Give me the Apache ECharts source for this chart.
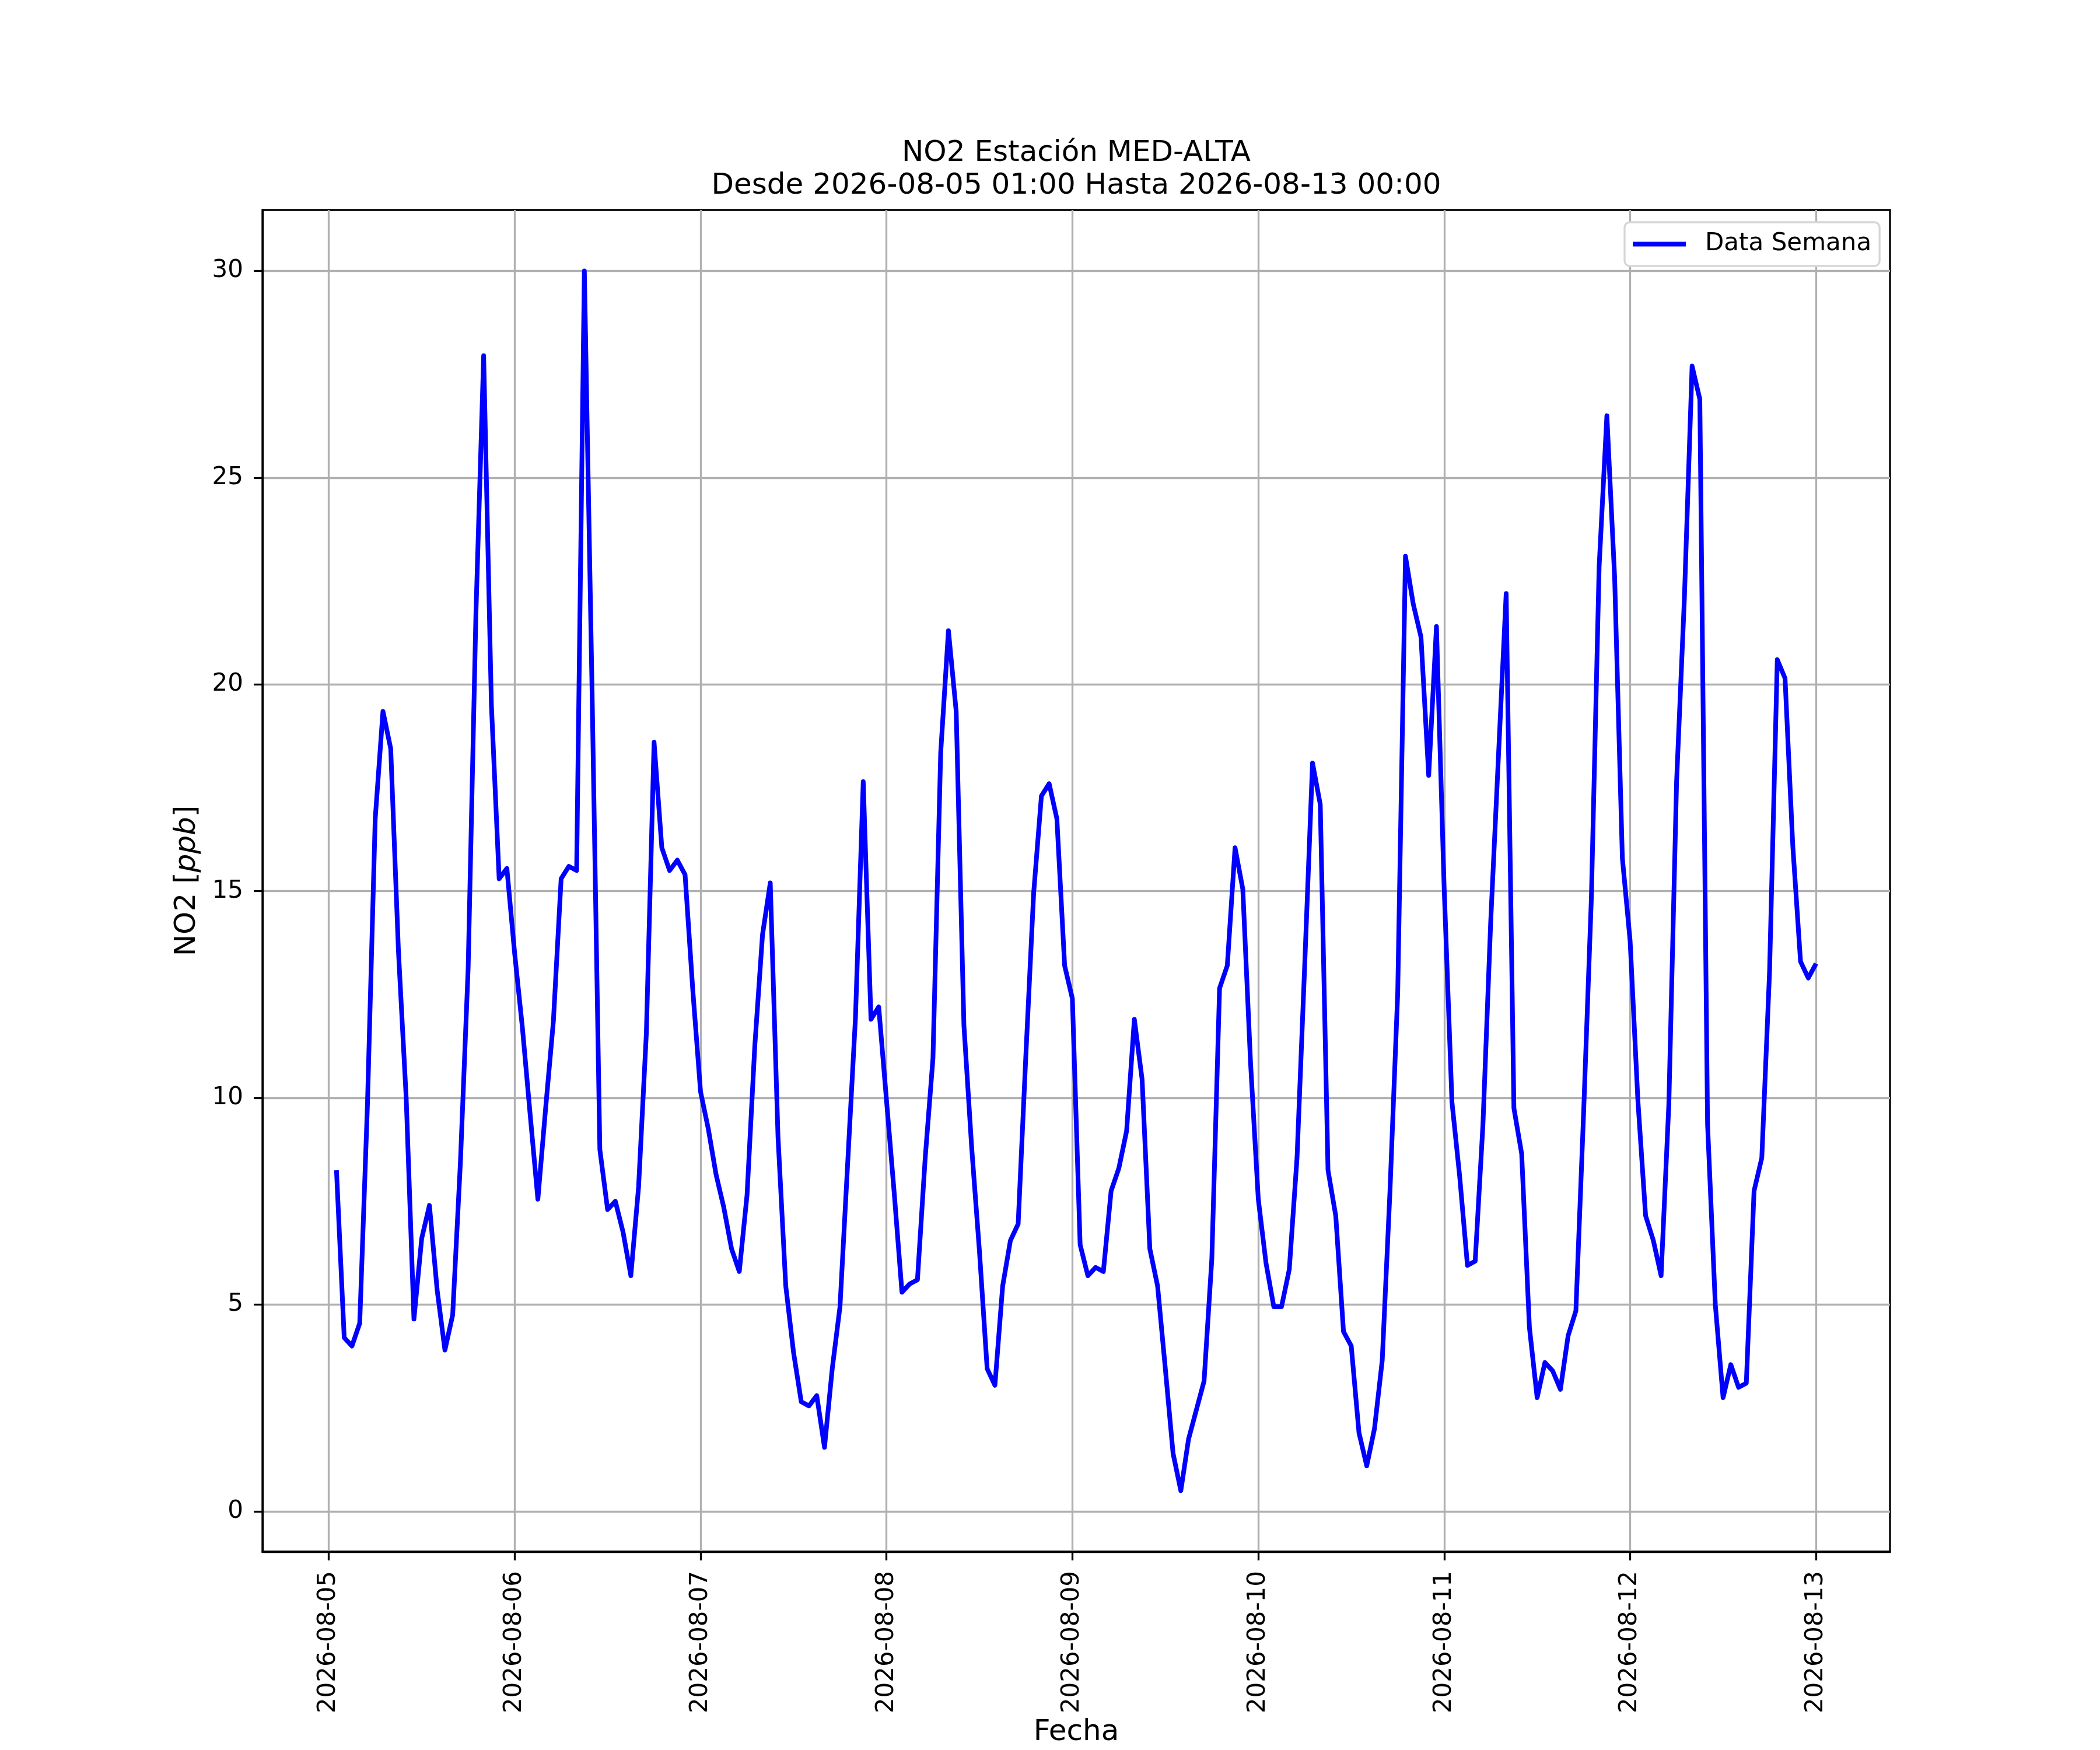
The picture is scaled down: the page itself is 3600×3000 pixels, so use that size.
<!DOCTYPE html>
<html>
<head>
<meta charset="utf-8">
<title>NO2 Estación MED-ALTA</title>
<script src="https://cdn.jsdelivr.net/npm/echarts@6/dist/echarts.min.js"></script>
<style>
    html, body { margin: 0; padding: 0; background: #fff; }
    #chart { width: 3600px; height: 3000px; }
</style>
</head>
<body>
<div id="chart"></div>
<script>
// hourly NO2 values (ppb), each day runs 01:00 .. next day 00:00
const day0805 = [8.25, 4.2, 4.0, 4.55, 9.85, 16.75, 19.35, 18.45, 13.55, 10.0, 4.65, 6.6, 7.4, 5.35, 3.9, 4.75, 8.45, 13.15, 21.7, 27.95, 19.5, 15.3, 15.55, 13.5]
const day0806 = [11.7, 9.6, 7.55, 9.75, 11.85, 15.3, 15.6, 15.5, 30.0, 19.8, 8.75, 7.3, 7.5, 6.75, 5.7, 7.85, 11.55, 18.6, 16.05, 15.5, 15.75, 15.4, 12.6, 10.15]
const day0807 = [9.25, 8.15, 7.35, 6.35, 5.8, 7.65, 11.25, 13.95, 15.2, 9.05, 5.45, 3.85, 2.65, 2.55, 2.8, 1.55, 3.45, 4.95, 8.45, 11.95, 17.65, 11.9, 12.2, 9.95]
const day0808 = [7.7, 5.3, 5.5, 5.6, 8.55, 10.95, 18.35, 21.3, 19.35, 11.75, 8.8, 6.3, 3.45, 3.05, 5.45, 6.55, 6.95, 11.05, 14.95, 17.3, 17.6, 16.75, 13.2, 12.4]
const day0809 = [6.45, 5.7, 5.9, 5.8, 7.75, 8.3, 9.2, 11.9, 10.45, 6.35, 5.45, 3.45, 1.4, 0.5, 1.75, 2.45, 3.15, 6.1, 12.65, 13.2, 16.05, 15.05, 10.85, 7.55]
const day0810 = [6.0, 4.95, 4.95, 5.85, 8.55, 13.25, 18.1, 17.1, 8.25, 7.15, 4.35, 4.0, 1.9, 1.1, 2.0, 3.65, 7.75, 12.55, 23.1, 21.95, 21.15, 17.8, 21.4, 15.05]
const day0811 = [9.9, 8.1, 5.95, 6.05, 9.35, 14.25, 18.25, 22.2, 9.75, 8.65, 4.45, 2.75, 3.6, 3.4, 2.95, 4.25, 4.85, 9.65, 14.85, 22.85, 26.5, 22.6, 15.8, 13.8]
const day0812 = [9.95, 7.15, 6.55, 5.7, 9.85, 17.65, 22.05, 27.7, 26.9, 9.35, 5.0, 2.75, 3.55, 3.0, 3.1, 7.75, 8.55, 13.05, 20.6, 20.15, 16.1, 13.3, 12.9, 13.25]

const days = [day0805, day0806, day0807, day0808, day0809, day0810, day0811, day0812]

// x tick labels, one per midnight
const dateLabels = ['2026-08-05', '2026-08-06', '2026-08-07', '2026-08-08', '2026-08-09', '2026-08-10', '2026-08-11', '2026-08-12', '2026-08-13']
const yTicks = [0, 5, 10, 15, 20, 25, 30]

const titleText = 'NO2 Estación MED-ALTA\nDesde 2026-08-05 01:00 Hasta 2026-08-13 00:00'
const seriesName = 'Data Semana'

// x is hours since 2026-08-05 00:00
let points = []
days.forEach((vals, d) => {
    vals.forEach((v, h) => {
        points.push([d * 24 + h + 1, v])
    })
})
const xTicks = dateLabels.map((lab, i) => i * 24)

// matplotlib style 5% margins
const xSpan = points[points.length - 1][0] - points[0][0]
const xMin = points[0][0] - xSpan * 0.05
const xMax = points[points.length - 1][0] + xSpan * 0.05
const allVals = points.map(p => p[1])
const ySpan = Math.max(...allVals) - Math.min(...allVals)
const yMin = Math.min(...allVals) - ySpan * 0.05
const yMax = Math.max(...allVals) + ySpan * 0.05

const font = 'DejaVu Sans'
const gridLine = { show: true, lineStyle: { color: '#b0b0b0', width: 3.3, type: 'solid' } }
// spines stay on the plot edges, not on zero
const axisBlack = { show: true, onZero: false, lineStyle: { color: '#000', width: 3.3 } }

const chart = echarts.init(document.getElementById('chart'), null, { renderer: 'canvas', devicePixelRatio: 1 })

const option = {
    backgroundColor: '#fff',
    animation: false,
    title: {
        text: titleText,
        left: 1845,
        top: 235,
        textAlign: 'center',
        padding: 0,
        textStyle: { fontFamily: font, fontSize: 50, fontWeight: 'normal', color: '#000', lineHeight: 56 },
    },
    legend: {
        data: [seriesName],
        left: 2785,
        top: 381,
        padding: [13, 14, 13, 14],
        backgroundColor: '#fff',
        borderColor: '#d6d6d6',
        borderWidth: 3.3,
        borderRadius: 9,
        icon: 'rect',
        itemWidth: 91,
        itemHeight: 8,
        textStyle: { fontFamily: font, fontSize: 42, color: '#000', lineHeight: 49, padding: [0, 0, 0, 28] },
    },
    grid: {
        left: 450,
        right: 360,
        top: 360,
        bottom: 330,
        show: true,
        borderColor: '#000',
        borderWidth: 3.3,
        containLabel: false,
    },
    xAxis: {
        type: 'value',
        min: xMin,
        max: xMax,
        name: 'Fecha',
        nameLocation: 'middle',
        nameGap: 283,
        nameTextStyle: { fontFamily: font, fontSize: 50, color: '#000' },
        axisLine: axisBlack,
        axisTick: { show: true, length: 15, customValues: xTicks, lineStyle: { color: '#000', width: 3.3 } },
        axisLabel: {
            customValues: xTicks,
            rotate: 90,
            margin: 33,
            fontFamily: font,
            fontSize: 42,
            color: '#000',
            formatter: v => dateLabels[Math.round(v / 24)],
        },
        splitLine: gridLine,
    },
    yAxis: {
        type: 'value',
        min: yMin,
        max: yMax,
        name: 'NO2 [{it|ppb}]',
        nameLocation: 'middle',
        nameRotate: 90,
        nameGap: 104,
        nameTextStyle: {
            fontFamily: font, fontSize: 50, color: '#000',
            rich: { it: { fontFamily: font, fontSize: 50, fontStyle: 'italic', color: '#000' } },
        },
        axisLine: axisBlack,
        axisTick: { show: true, length: 15, customValues: yTicks, lineStyle: { color: '#000', width: 3.3 } },
        axisLabel: { customValues: yTicks, margin: 33, fontFamily: font, fontSize: 42, color: '#000' },
        splitLine: gridLine,
    },
    series: [{
        name: seriesName,
        type: 'line',
        data: points,
        showSymbol: false,
        symbol: 'none',
        color: '#0000ff',
        lineStyle: { color: '#0000ff', width: 8, join: 'round' },
        z: 3,
    }],
}

chart.setOption(option)
</script>
</body>
</html>
